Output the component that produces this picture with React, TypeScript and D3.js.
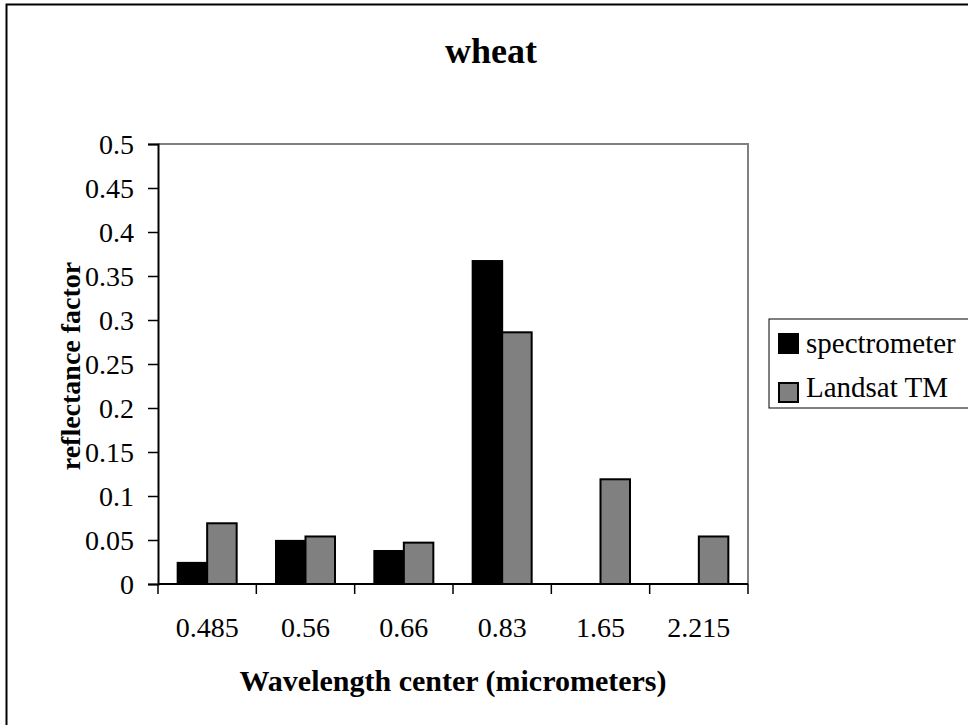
import React, { useEffect, useRef } from 'react';
import * as d3 from 'd3';

const categories = ['0.485', '0.56', '0.66', '0.83', '1.65', '2.215'];
const seriesNames = ['spectrometer', 'Landsat TM'];
const spectrometer = [0.024, 0.049, 0.0375, 0.367, null, null];
const landsat = [0.069, 0.054, 0.047, 0.286, 0.119, 0.054];
const yTicks = [0, 0.05, 0.1, 0.15, 0.2, 0.25, 0.3, 0.35, 0.4, 0.45, 0.5];
const colors = ['#000000', '#808080'];

const App = () => {
  const ref = useRef<SVGSVGElement>(null);

  useEffect(() => {
    const svg = d3.select(ref.current);
    svg.selectAll('*').remove();
    const font = '"Liberation Serif", "Times New Roman", serif';

    const left = 158, right = 748, top = 144, bottom = 584;

    // outer chart border (only top and left visible in the crop)
    svg.append('rect')
      .attr('x', 6.5).attr('y', 4.5).attr('width', 1000).attr('height', 800)
      .attr('fill', 'none').attr('stroke', '#000').attr('stroke-width', 2);

    const y = d3.scaleLinear().domain([0, 0.5]).range([bottom, top]);
    const slot = d3.scaleBand().domain(categories).range([left, right]);
    const x0 = d3.scaleBand().domain(categories).range([left, right])
      .paddingInner(0.4).paddingOuter(0.2);
    const x1 = d3.scaleBand().domain(seriesNames).range([0, x0.bandwidth()]);

    // plot frame top/right in grey
    svg.append('path')
      .attr('d', `M${left},${top}H${right}V${bottom}`)
      .attr('fill', 'none').attr('stroke', '#808080').attr('stroke-width', 2);

    const data = [spectrometer, landsat];
    const g = svg.append('g');
    data.forEach((vals, si) => {
      g.selectAll(null)
        .data(categories.map((c, i) => ({ c, v: vals[i] })).filter((d) => d.v != null))
        .enter()
        .append('rect')
        .attr('x', (d) => x0(d.c)! + x1(seriesNames[si])!)
        .attr('y', (d) => y(d.v as number))
        .attr('width', x1.bandwidth())
        .attr('height', (d) => bottom - y(d.v as number))
        .attr('fill', colors[si])
        .attr('stroke', '#000')
        .attr('stroke-width', 2);
    });

    // y axis
    const ya = svg.append('g').attr('transform', `translate(${left},0)`)
      .call(d3.axisLeft(y).tickValues(yTicks).tickSize(10).tickPadding(14)
        .tickFormat((d) => String(+d)));
    ya.select('.domain').attr('stroke', '#000').attr('stroke-width', 2);
    ya.selectAll('.tick line').attr('stroke', '#000').attr('stroke-width', 1.5);
    ya.selectAll('text').attr('font-family', font).attr('font-size', 28)
      .attr('fill', '#000').attr('dy', '0.35em');

    // x axis: ticks at slot boundaries
    svg.append('line').attr('x1', left).attr('x2', right)
      .attr('y1', bottom).attr('y2', bottom)
      .attr('stroke', '#000').attr('stroke-width', 2);
    const bounds = categories.map((c) => slot(c)!).concat([right]);
    svg.selectAll(null).data(bounds).enter().append('line')
      .attr('x1', (d) => d).attr('x2', (d) => d)
      .attr('y1', bottom).attr('y2', bottom + 10)
      .attr('stroke', '#000').attr('stroke-width', 1.5);
    svg.selectAll(null).data(categories).enter().append('text')
      .attr('x', (d) => slot(d)! + slot.bandwidth() / 2)
      .attr('y', 637)
      .attr('text-anchor', 'middle')
      .attr('font-family', font).attr('font-size', 28)
      .text((d) => d);

    // titles
    svg.append('text').attr('x', 491).attr('y', 63).attr('text-anchor', 'middle')
      .attr('font-family', font).attr('font-size', 36).attr('font-weight', 'bold')
      .text('wheat');
    svg.append('text').attr('x', 453).attr('y', 691).attr('text-anchor', 'middle')
      .attr('font-family', font).attr('font-size', 30).attr('font-weight', 'bold')
      .text('Wavelength center (micrometers)');
    svg.append('text')
      .attr('transform', `translate(80,366) rotate(-90)`)
      .attr('text-anchor', 'middle')
      .attr('font-family', font).attr('font-size', 28).attr('font-weight', 'bold')
      .text('reflectance factor');

    // legend
    const lg = svg.append('g');
    lg.append('rect').attr('x', 769).attr('y', 319).attr('width', 220).attr('height', 89)
      .attr('fill', '#fff').attr('stroke', '#000').attr('stroke-width', 1);
    seriesNames.forEach((name, i) => {
      lg.append('rect').attr('x', 779).attr('y', 334 + i * 49).attr('width', 19).attr('height', 19)
        .attr('fill', colors[i]).attr('stroke', '#000').attr('stroke-width', 2);
      lg.append('text').attr('x', 806).attr('y', 353 + i * 44)
        .attr('font-family', font).attr('font-size', 29)
        .text(name);
    });
  }, []);

  return (
    <svg ref={ref} width={968} height={725}
      style={{ position: 'absolute', left: 0, top: 0, background: '#fff' }} />
  );
};

export default App;
